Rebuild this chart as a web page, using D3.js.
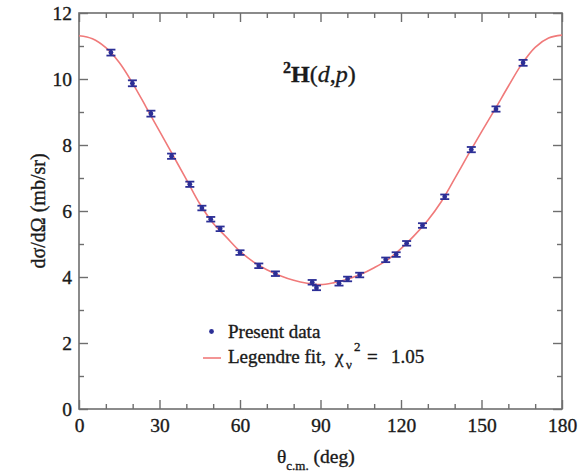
<!DOCTYPE html>
<html>
<head>
<meta charset="utf-8">
<script src="https://cdn.jsdelivr.net/npm/d3@7"></script>
<style>
  html, body { margin: 0; padding: 0; background: #fff; }
  svg { display: block; }
  text { font-family: "Liberation Serif", Tinos, "Times New Roman", Times, serif;
         fill: #1a1a1a; stroke: #1a1a1a; stroke-width: 0.35px; }
</style>
</head>
<body>
<svg id="chart" width="581" height="473"></svg>
<script>
// Measured 2H(d,p) angular distribution (centre-of-mass angle, deg)
const theta = [11.9, 19.9, 26.8, 34.5, 41.3, 45.8, 49.1, 52.6, 60.0, 67.0, 73.2, 86.9,
               88.5, 96.9, 100.1, 104.6, 114.3, 118.2, 122.1, 128.0, 136.3, 146.2, 155.4, 165.5];
// Differential cross section (mb/sr)
const sigma = [10.80, 9.87, 8.95, 7.66, 6.81, 6.09, 5.75, 5.46, 4.74, 4.34, 4.10, 3.84,
               3.67, 3.81, 3.94, 4.06, 4.52, 4.68, 5.02, 5.56, 6.43, 7.86, 9.09, 10.49];
const sigmaErr = [0.09, 0.09, 0.09, 0.08, 0.08, 0.07, 0.07, 0.07, 0.07, 0.07, 0.07, 0.07,
                  0.07, 0.07, 0.07, 0.07, 0.07, 0.07, 0.07, 0.07, 0.07, 0.08, 0.08, 0.09];

// Legendre polynomial fit, tabulated every 5 deg
const fitTheta = [0, 5, 10, 15, 20, 25, 30, 35, 40, 45, 50, 55, 60, 65, 70, 75, 80, 85, 90,
                  95, 100, 105, 110, 115, 120, 125, 130, 135, 140, 145, 150, 155, 160, 165, 170, 175, 180];
const fitSigma = [11.31, 11.22, 10.95, 10.50, 9.87, 9.15, 8.42, 7.69, 6.96, 6.22, 5.63, 5.20, 4.78,
                  4.46, 4.22, 4.04, 3.90, 3.81, 3.77, 3.83, 3.93, 4.08, 4.28, 4.52, 4.86, 5.26,
                  5.72, 6.28, 6.98, 7.70, 8.40, 9.08, 9.78, 10.45, 10.96, 11.24, 11.33];

// Axis ticks
const xMajor = [0, 30, 60, 90, 120, 150, 180];
const xMinor = [10, 20, 40, 50, 70, 80, 100, 110, 130, 140, 160, 170];
const yMajor = [0, 2, 4, 6, 8, 10, 12];
const yMinor = [1, 3, 5, 7, 9, 11];

const FONT = '"Liberation Serif", Tinos, "Times New Roman", Times, serif';

const svg = d3.select("#chart");
const W = 581, H = 473;
const m = { left: 79, top: 13, right: 19, bottom: 64 };
const x = d3.scaleLinear().domain([0, 180]).range([m.left, W - m.right]);
const y = d3.scaleLinear().domain([0, 12]).range([H - m.bottom, m.top]);

const axisColor = "#6e6e6e";
const major = 9, minor = 5;

function styleAxis(g) {
  g.attr("font-family", FONT);
  g.select(".domain").remove();
  g.selectAll("line").attr("stroke", axisColor).attr("stroke-width", 1.4);
  g.selectAll("text").attr("font-size", 19.5).attr("fill", "#1a1a1a").style("font-family", FONT);
}

// bottom
svg.append("g").attr("transform", `translate(0,${y(0)})`)
  .call(d3.axisBottom(x).tickValues(xMajor).tickSize(-major).tickPadding(9).tickFormat(d3.format("d")))
  .call(styleAxis);
svg.append("g").attr("transform", `translate(0,${y(0)})`)
  .call(d3.axisBottom(x).tickValues(xMinor).tickSize(-minor).tickFormat(""))
  .call(styleAxis);
// top
svg.append("g").attr("transform", `translate(0,${y(12)})`)
  .call(d3.axisTop(x).tickValues(xMajor).tickSize(-major).tickFormat(""))
  .call(styleAxis);
svg.append("g").attr("transform", `translate(0,${y(12)})`)
  .call(d3.axisTop(x).tickValues(xMinor).tickSize(-minor).tickFormat(""))
  .call(styleAxis);
// left
svg.append("g").attr("transform", `translate(${x(0)},0)`)
  .call(d3.axisLeft(y).tickValues(yMajor).tickSize(-major).tickPadding(7).tickFormat(d3.format("d")))
  .call(styleAxis);
svg.append("g").attr("transform", `translate(${x(0)},0)`)
  .call(d3.axisLeft(y).tickValues(yMinor).tickSize(-minor).tickFormat(""))
  .call(styleAxis);
// right
svg.append("g").attr("transform", `translate(${x(180)},0)`)
  .call(d3.axisRight(y).tickValues(yMajor).tickSize(-major).tickFormat(""))
  .call(styleAxis);
svg.append("g").attr("transform", `translate(${x(180)},0)`)
  .call(d3.axisRight(y).tickValues(yMinor).tickSize(-minor).tickFormat(""))
  .call(styleAxis);

// frame
svg.append("rect")
  .attr("x", x(0)).attr("y", y(12))
  .attr("width", x(180) - x(0)).attr("height", y(0) - y(12))
  .attr("fill", "none").attr("stroke", axisColor).attr("stroke-width", 1.6);

// fit curve
const fit = fitTheta.map((t, i) => [t, fitSigma[i]]);
svg.append("path")
  .datum(fit)
  .attr("fill", "none")
  .attr("stroke", "#f07a7a")
  .attr("stroke-width", 1.6)
  .attr("d", d3.line().x(d => x(d[0])).y(d => y(d[1])).curve(d3.curveCatmullRom.alpha(0.5)));

// data points with error bars
const navy = "#2c2f96";
const pts = theta.map((t, i) => ({ t, s: sigma[i], e: sigmaErr[i] }));
const g = svg.append("g").selectAll("g").data(pts).join("g");
g.append("line")
  .attr("x1", d => x(d.t)).attr("x2", d => x(d.t))
  .attr("y1", d => y(d.s + d.e)).attr("y2", d => y(d.s - d.e))
  .attr("stroke", navy).attr("stroke-width", 2.4);
g.append("line")
  .attr("x1", d => x(d.t) - 4.5).attr("x2", d => x(d.t) + 4.5)
  .attr("y1", d => y(d.s + d.e)).attr("y2", d => y(d.s + d.e))
  .attr("stroke", navy).attr("stroke-width", 1.8);
g.append("line")
  .attr("x1", d => x(d.t) - 4.5).attr("x2", d => x(d.t) + 4.5)
  .attr("y1", d => y(d.s - d.e)).attr("y2", d => y(d.s - d.e))
  .attr("stroke", navy).attr("stroke-width", 1.8);
g.append("circle")
  .attr("cx", d => x(d.t)).attr("cy", d => y(d.s)).attr("r", 2.4)
  .attr("fill", navy);

const txt = (sel) => sel.style("font-family", FONT);

// reaction label
const title = svg.append("text").attr("x", 283).attr("y", 82).attr("font-size", 24).call(txt);
title.append("tspan").attr("font-weight", "bold").attr("font-size", 16).attr("dy", -9).text("2");
title.append("tspan").attr("font-weight", "bold").attr("dy", 9).text("H");
title.append("tspan").text("(");
title.append("tspan").attr("font-style", "italic").text("d");
title.append("tspan").text(",");
title.append("tspan").attr("font-style", "italic").text("p");
title.append("tspan").text(")");

// legend
svg.append("circle").attr("cx", 211.5).attr("cy", 331.5).attr("r", 2.4).attr("fill", navy);
svg.append("text").attr("x", 228).attr("y", 337.5).attr("font-size", 19).call(txt).text("Present data");
svg.append("line").attr("x1", 203).attr("x2", 221).attr("y1", 358).attr("y2", 358)
  .attr("stroke", "#f07a7a").attr("stroke-width", 1.6);
svg.append("text").attr("x", 228).attr("y", 363).attr("font-size", 19).call(txt).text("Legendre fit,");
svg.append("text").attr("x", 335).attr("y", 363).attr("font-size", 19).call(txt).text("χ");
svg.append("text").attr("x", 346).attr("y", 369).attr("font-size", 13).call(txt).text("ν");
svg.append("text").attr("x", 354).attr("y", 351).attr("font-size", 13).call(txt).text("2");
svg.append("text").attr("x", 367).attr("y", 363).attr("font-size", 19).call(txt).text("=");
svg.append("text").attr("x", 391).attr("y", 363).attr("font-size", 19).call(txt).text("1.05");

// axis titles
const xl = svg.append("text").attr("x", 277).attr("y", 463).attr("font-size", 19.5).call(txt);
xl.append("tspan").text("θ");
xl.append("tspan").attr("font-size", 13).attr("dy", 7).text("c.m.");
xl.append("tspan").attr("dy", -7).text(" (deg)");

svg.append("text")
  .attr("transform", `translate(45,${(y(0) + y(12)) / 2}) rotate(-90)`)
  .attr("text-anchor", "middle")
  .attr("font-size", 20)
  .call(txt)
  .text("dσ/dΩ (mb/sr)");
</script>
</body>
</html>
